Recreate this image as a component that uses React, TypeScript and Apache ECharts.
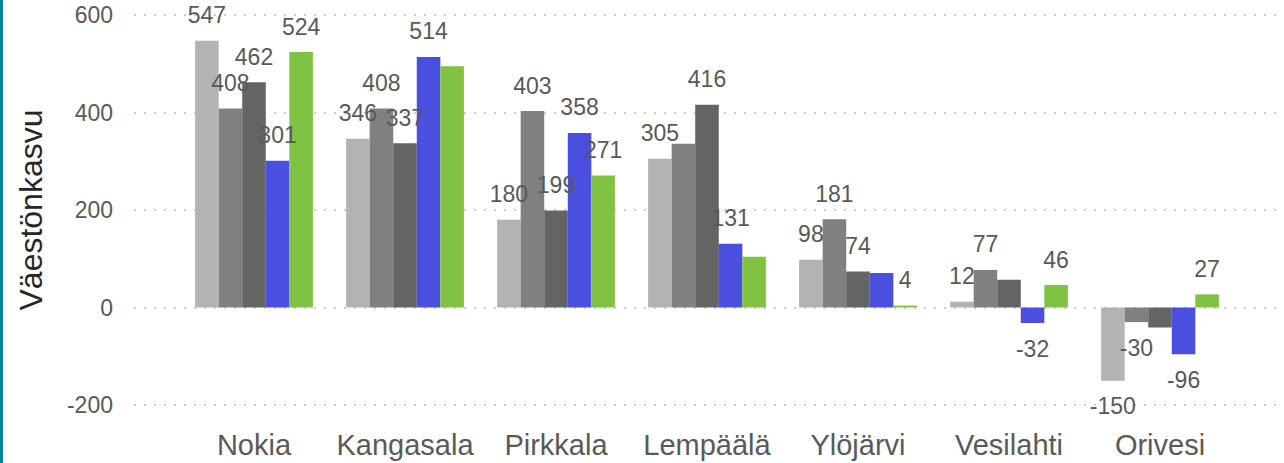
import React, { useEffect, useRef } from "react";
import * as echarts from "echarts";

const categories = ["Nokia", "Kangasala", "Pirkkala", "Lempäälä", "Ylöjärvi", "Vesilahti", "Orivesi"];
const seriesNames = ["Sarja 1", "Sarja 2", "Sarja 3", "Sarja 4", "Sarja 5"];
const s1 = [547, 346, 180, 305, 98, 12, -150];
const s2 = [408, 408, 403, 336, 181, 77, -30];
const s3 = [462, 337, 199, 416, 74, 57, -41];
const s4 = [301, 514, 358, 131, 71, -32, -96];
const s5 = [524, 495, 271, 104, 4, 46, 27];
// labels that are not shown in the reference (series index, category index)
const hiddenLabels = [[4, 1], [1, 3], [4, 3], [3, 4], [2, 5], [2, 6]];
const yTicks = { min: -200, max: 600, interval: 200 };
const colors = ["#b3b3b3", "#808080", "#646464", "#4b4fe0", "#80c343"];
const yAxisName = "Väestönkasvu";

export default function App() {
  const ref = useRef<HTMLDivElement>(null);
  useEffect(() => {
    document.body.style.margin = "0";
    const chart = echarts.init(ref.current!, null, { renderer: "svg" });
    const all = [s1, s2, s3, s4, s5];
    const font = "'Liberation Sans', Arial, sans-serif";
    chart.setOption({
      animation: false,
      textStyle: { fontFamily: font },
      grid: [
        { left: 134, right: 4, top: 15, bottom: 58 },
        { left: 178.5, right: 48.5, top: 15, bottom: 58 },
      ],
      xAxis: [
        { type: "category", gridIndex: 0, data: categories, show: false },
        {
          type: "category",
          gridIndex: 1,
          data: categories,
          axisLine: { show: false, onZero: false },
          axisTick: { show: false },
          axisLabel: {
            interval: 0,
            hideOverlap: false,
            fontSize: 29,
            color: "#595959",
            margin: 25,
            fontFamily: font,
          },
        },
      ],
      yAxis: [
        {
          type: "value",
          gridIndex: 0,
          ...yTicks,
          name: yAxisName,
          nameLocation: "middle",
          nameGap: 87,
          nameTextStyle: { fontSize: 32, color: "#262626", fontFamily: font },
          axisLine: { show: false },
          axisTick: { show: false },
          axisLabel: { fontSize: 23, color: "#595959", margin: 21, fontFamily: font },
          splitLine: { show: true, lineStyle: { color: "#cccccc", width: 2, type: [2, 8] } },
        },
        {
          type: "value",
          gridIndex: 1,
          ...yTicks,
          show: false,
          splitLine: { show: false },
        },
      ],
      graphic: [
        { type: "rect", left: 0, top: 0, shape: { width: 3, height: 463 }, style: { fill: "#0b7fa3" } },
      ],
      series: all.map((arr, si) => ({
        type: "bar",
        name: seriesNames[si],
        xAxisIndex: 1,
        yAxisIndex: 1,
        barGap: "0%",
        barCategoryGap: "22%",
        itemStyle: { color: colors[si] },
        label: {
          show: true,
          position: "top",
          distance: 14,
          fontSize: 23,
          color: "#595959",
          fontFamily: font,
        },
        data: arr.map((v, ci) => {
          const hidden = hiddenLabels.some(([a, b]) => a === si && b === ci);
          return {
            value: v,
            label: { show: !hidden, position: v < 0 ? "bottom" : "top" },
          };
        }),
      })),
    });
    return () => chart.dispose();
  }, []);
  return <div ref={ref} style={{ width: 1284, height: 463 }} />;
}
